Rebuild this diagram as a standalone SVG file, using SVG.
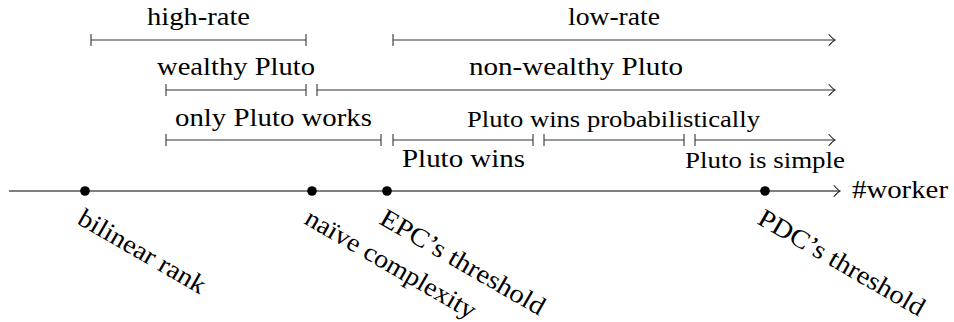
<svg xmlns="http://www.w3.org/2000/svg" width="954" height="322" viewBox="0 0 954 322">
  <style>
    .t { font-family: "Liberation Serif", "Noto Serif", Tinos, "Nimbus Roman", "FreeSerif", "DejaVu Serif", "Times New Roman", Times, serif; fill: #000; }
    .n { font-size: 26px; }
    .s { font-size: 23.5px; }
    .bar { stroke: #333; stroke-width: 1.1; fill: none; }
    .axis { stroke: #555; stroke-width: 1.4; fill: none; }
    .tip { stroke: #222; stroke-width: 1.1; fill: none; stroke-linecap: round; }
    .dot { fill: #000; }
  </style>
  <defs>
    <!-- curved "to" arrow head, tip at origin -->
    <path id="to" class="tip" d="M-6,-5.5 Q-2,-1 0,0 Q-2,1 -6,5.5"/>
    <!-- bar end tick -->
    <path id="tick" class="bar" d="M0,-6 V6"/>
  </defs>

  <!-- axis and interval bars -->
  <g id="connectors">
    <line class="axis" x1="9" y1="191" x2="839" y2="191"/>
    <use href="#to" x="840" y="191"/>

    <!-- row 1 -->
    <line class="bar" x1="91" y1="40" x2="306" y2="40"/>
    <use href="#tick" x="91" y="40"/><use href="#tick" x="306" y="40"/>
    <line class="bar" x1="393" y1="40" x2="834" y2="40"/>
    <use href="#tick" x="393" y="40"/><use href="#to" x="835" y="40"/>

    <!-- row 2 -->
    <line class="bar" x1="166" y1="90" x2="306" y2="90"/>
    <use href="#tick" x="166" y="90"/><use href="#tick" x="306" y="90"/>
    <line class="bar" x1="317" y1="90" x2="834" y2="90"/>
    <use href="#tick" x="317" y="90"/><use href="#to" x="835" y="90"/>

    <!-- row 3 -->
    <line class="bar" x1="166" y1="140" x2="381" y2="140"/>
    <use href="#tick" x="166" y="140"/><use href="#tick" x="381" y="140"/>
    <line class="bar" x1="393" y1="140" x2="533" y2="140"/>
    <use href="#tick" x="393" y="140"/><use href="#tick" x="533" y="140"/>
    <line class="bar" x1="544" y1="140" x2="684" y2="140"/>
    <use href="#tick" x="544" y="140"/><use href="#tick" x="684" y="140"/>
    <line class="bar" x1="695" y1="140" x2="834" y2="140"/>
    <use href="#tick" x="695" y="140"/><use href="#to" x="835" y="140"/>
  </g>

  <!-- interval labels -->
  <g id="high-rate"><text class="t n" x="147" y="25" textLength="103" lengthAdjust="spacingAndGlyphs">high-rate</text></g>
  <g id="low-rate"><text class="t n" x="568" y="25" textLength="92" lengthAdjust="spacingAndGlyphs">low-rate</text></g>
  <g id="wealthy"><text class="t n" x="157" y="75" textLength="158" lengthAdjust="spacingAndGlyphs">wealthy Pluto</text></g>
  <g id="non-wealthy"><text class="t n" x="469" y="75" textLength="214" lengthAdjust="spacingAndGlyphs">non-wealthy Pluto</text></g>
  <g id="only-works"><text class="t n" x="175" y="126" textLength="197" lengthAdjust="spacingAndGlyphs">only Pluto works</text></g>
  <g id="wins-prob"><text class="t s" x="467" y="127" textLength="293" lengthAdjust="spacingAndGlyphs">Pluto wins probabilistically</text></g>
  <g id="wins"><text class="t n" x="402" y="167" textLength="123" lengthAdjust="spacingAndGlyphs">Pluto wins</text></g>
  <g id="simple"><text class="t s" x="685" y="168" textLength="160" lengthAdjust="spacingAndGlyphs">Pluto is simple</text></g>
  <g id="axis-label"><text class="t n" x="852" y="198" textLength="96" lengthAdjust="spacingAndGlyphs">#worker</text></g>

  <!-- marked points on the axis -->
  <g id="bilinear-rank">
    <circle class="dot" cx="85" cy="191" r="4.8"/>
    <text class="t n" transform="translate(76,223) rotate(30)" textLength="143" lengthAdjust="spacingAndGlyphs">bilinear rank</text>
  </g>
  <g id="naive-complexity">
    <circle class="dot" cx="312" cy="191" r="4.8"/>
    <text class="t n" transform="translate(303,223) rotate(30)" textLength="193" lengthAdjust="spacingAndGlyphs">naïve complexity</text>
  </g>
  <g id="epc-threshold">
    <circle class="dot" cx="387" cy="191" r="4.8"/>
    <text class="t n" transform="translate(378,223) rotate(30)" textLength="186" lengthAdjust="spacingAndGlyphs">EPC’s threshold</text>
  </g>
  <g id="pdc-threshold">
    <circle class="dot" cx="765" cy="191" r="4.8"/>
    <text class="t n" transform="translate(756,223) rotate(30)" textLength="188" lengthAdjust="spacingAndGlyphs">PDC’s threshold</text>
  </g>
</svg>
